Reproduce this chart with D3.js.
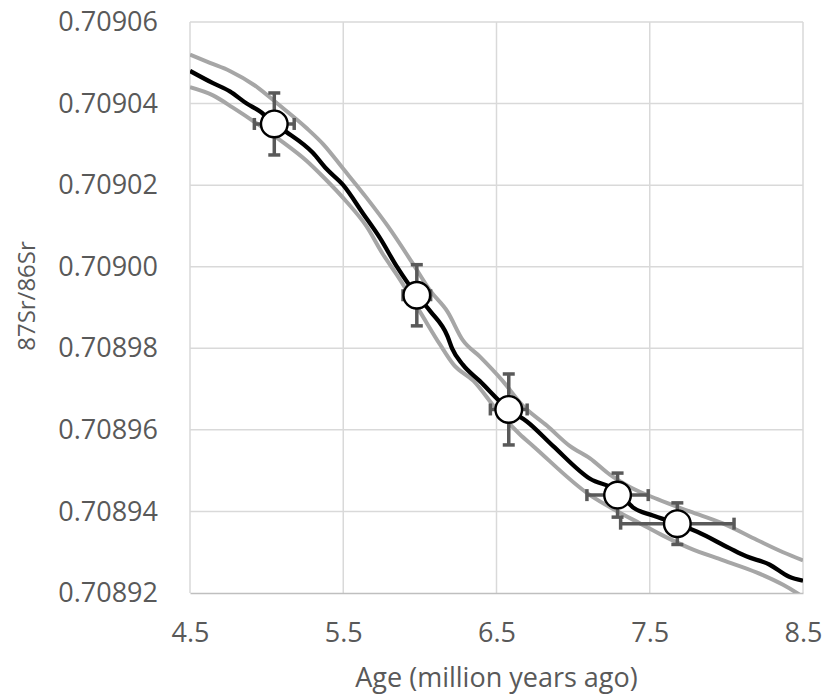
<!DOCTYPE html>
<html>
<head>
<meta charset="utf-8">
<script src="https://cdn.jsdelivr.net/npm/d3@7"></script>
<style>
  html, body { margin: 0; padding: 0; background: #ffffff; }
  svg { display: block; }
  text { font-family: "Open Sans", "Liberation Sans", sans-serif; fill: #595959; }
</style>
</head>
<body>
<svg id="chart" width="824" height="697"></svg>
<script>
// ---- data ----
const xTicks = [4.5, 5.5, 6.5, 7.5, 8.5];
const yTicks = [0.70892, 0.70894, 0.70896, 0.70898, 0.70900, 0.70902, 0.70904, 0.70906];
const xTitle = "Age (million years ago)";
const yTitle = "87Sr/86Sr";

// measured samples (age, ratio)
const sampleAge   = [5.05, 5.98, 6.58, 7.29, 7.68];
const sampleRatio = [0.709035, 0.708993, 0.708965, 0.708944, 0.708937];
const sampleAgeErr   = [0.13, 0.09, 0.12, 0.20, 0.37];
const sampleRatioErr = [0.0000076, 0.0000075, 0.0000087, 0.0000054, 0.0000051];

// fitted curve (centre)
const fitAge = [4.50, 4.65, 4.76, 4.87, 4.96, 5.05, 5.13, 5.30, 5.39, 5.50, 5.63, 5.74, 5.85, 5.98, 6.07, 6.18, 6.21, 6.28, 6.39, 6.58, 6.70, 6.87, 7.11, 7.29, 7.39, 7.52, 7.68, 7.81, 8.02, 8.13, 8.28, 8.41, 8.50];
const fitRatio = [0.709048, 0.709045, 0.709043, 0.709040, 0.709038, 0.709035, 0.709033, 0.709028, 0.709024, 0.709020, 0.709013, 0.709007, 0.709000, 0.708993, 0.708989, 0.708983, 0.708980, 0.708976, 0.708972, 0.708965, 0.708962, 0.708956, 0.708948, 0.708945, 0.708941, 0.708939, 0.708937, 0.708935, 0.708931, 0.708929, 0.708927, 0.708924, 0.708923];

// upper bound
const upperAge = [4.50, 4.63, 4.76, 4.94, 5.07, 5.26, 5.37, 5.50, 5.65, 5.79, 5.95, 6.07, 6.18, 6.28, 6.39, 6.54, 6.67, 6.83, 6.98, 7.11, 7.24, 7.37, 7.55, 7.76, 7.98, 8.20, 8.37, 8.50];
const upperRatio = [0.709052, 0.709050, 0.709048, 0.709044, 0.709040, 0.709034, 0.709030, 0.709024, 0.709017, 0.709010, 0.709001, 0.708994, 0.708989, 0.708982, 0.708978, 0.708972, 0.708966, 0.708961, 0.708956, 0.708953, 0.708949, 0.708946, 0.708943, 0.708940, 0.708937, 0.708933, 0.708930, 0.708928];

// lower bound
const lowerAge = [4.50, 4.65, 4.78, 4.94, 5.09, 5.26, 5.37, 5.52, 5.65, 5.76, 5.85, 6.00, 6.13, 6.22, 6.35, 6.50, 6.65, 6.74, 7.11, 7.29, 7.44, 7.59, 7.76, 7.98, 8.20, 8.37, 8.46, 8.50];
const lowerRatio = [0.709044, 0.709042, 0.709039, 0.709035, 0.709031, 0.709026, 0.709022, 0.709016, 0.709010, 0.709003, 0.708998, 0.708989, 0.708981, 0.708976, 0.708972, 0.708965, 0.708959, 0.708956, 0.708944, 0.708940, 0.708937, 0.708934, 0.708931, 0.708928, 0.708925, 0.708922, 0.708920, 0.708919];

// ---- layout ----
const svg = d3.select("#chart");
const mLeft = 190, mRight = 803, mTop = 22, mBottom = 593;

const x = d3.scaleLinear().domain([4.5, 8.5]).range([mLeft, mRight]);
const y = d3.scaleLinear().domain([0.70892, 0.70906]).range([mBottom, mTop]);

// gridlines
const grid = svg.append("g");
grid.selectAll("line.h").data(yTicks.filter(v => v !== 0.70892)).enter().append("line")
  .attr("x1", mLeft).attr("x2", mRight)
  .attr("y1", d => y(d)).attr("y2", d => y(d))
  .attr("stroke", "#d9d9d9").attr("stroke-width", 1.5);
grid.selectAll("line.v").data(xTicks).enter().append("line")
  .attr("x1", d => x(d)).attr("x2", d => x(d))
  .attr("y1", mTop).attr("y2", mBottom)
  .attr("stroke", "#d9d9d9").attr("stroke-width", 1.5);

// x axis (bottom)
const xAxis = svg.append("g").attr("transform", `translate(0,${mBottom})`)
  .call(d3.axisBottom(x).tickValues(xTicks).tickSize(0).tickPadding(30).tickFormat(d3.format(".1f")));
xAxis.select(".domain").attr("stroke", "#bfbfbf").attr("stroke-width", 1.5);
xAxis.selectAll("text").style("font-size", "27px").attr("fill", "#595959");

// y axis (left)
const yAxis = svg.append("g").attr("transform", `translate(${mLeft},0)`)
  .call(d3.axisLeft(y).tickValues(yTicks).tickSize(0).tickPadding(32).tickFormat(d3.format(".5f")));
yAxis.select(".domain").remove();
yAxis.selectAll("text").style("font-size", "27px").attr("fill", "#595959");

// clip
svg.append("clipPath").attr("id", "plotclip").append("rect")
  .attr("x", mLeft).attr("y", mTop).attr("width", mRight - mLeft).attr("height", mBottom - mTop);

const curves = svg.append("g").attr("clip-path", "url(#plotclip)");
const lineGen = d3.line().x(d => x(d[0])).y(d => y(d[1])).curve(d3.curveMonotoneX);

curves.append("path").datum(d3.zip(upperAge, upperRatio))
  .attr("d", lineGen).attr("fill", "none").attr("stroke", "#a6a6a6").attr("stroke-width", 4).attr("stroke-linejoin", "round");
curves.append("path").datum(d3.zip(lowerAge, lowerRatio))
  .attr("d", lineGen).attr("fill", "none").attr("stroke", "#a6a6a6").attr("stroke-width", 4).attr("stroke-linejoin", "round");
curves.append("path").datum(d3.zip(fitAge, fitRatio))
  .attr("d", lineGen).attr("fill", "none").attr("stroke", "#000000").attr("stroke-width", 4.3).attr("stroke-linejoin", "round");

// error bars
const pts = sampleAge.map((a, i) => ({ a, r: sampleRatio[i], ea: sampleAgeErr[i], er: sampleRatioErr[i] }));
const eb = svg.append("g").attr("stroke", "#595959").attr("stroke-width", 3.5);
const cap = 6;
pts.forEach(p => {
  const cx = x(p.a), cy = y(p.r);
  eb.append("line").attr("x1", cx).attr("x2", cx).attr("y1", y(p.r + p.er)).attr("y2", y(p.r - p.er));
  eb.append("line").attr("x1", cx - cap).attr("x2", cx + cap).attr("y1", y(p.r + p.er)).attr("y2", y(p.r + p.er));
  eb.append("line").attr("x1", cx - cap).attr("x2", cx + cap).attr("y1", y(p.r - p.er)).attr("y2", y(p.r - p.er));
  eb.append("line").attr("x1", x(p.a - p.ea)).attr("x2", x(p.a + p.ea)).attr("y1", cy).attr("y2", cy);
  eb.append("line").attr("x1", x(p.a - p.ea)).attr("x2", x(p.a - p.ea)).attr("y1", cy - cap).attr("y2", cy + cap);
  eb.append("line").attr("x1", x(p.a + p.ea)).attr("x2", x(p.a + p.ea)).attr("y1", cy - cap).attr("y2", cy + cap);
});

// markers
svg.append("g").selectAll("circle").data(pts).enter().append("circle")
  .attr("cx", d => x(d.a)).attr("cy", d => y(d.r)).attr("r", 13.3)
  .attr("fill", "#ffffff").attr("stroke", "#000000").attr("stroke-width", 2.4);

// titles
svg.append("text").attr("x", (mLeft + mRight) / 2).attr("y", 687)
  .attr("text-anchor", "middle").style("font-size", "27px").text(xTitle);
svg.append("text").attr("transform", "translate(35,296) rotate(-90)")
  .attr("text-anchor", "middle").style("font-size", "24px").text(yTitle);
</script>
</body>
</html>
